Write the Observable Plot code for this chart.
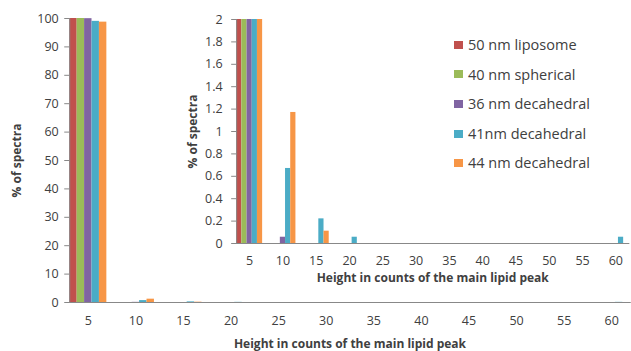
<!DOCTYPE html>
<html>
<head>
<meta charset="utf-8">
<script src="https://cdn.jsdelivr.net/npm/d3@7"></script>
<script src="https://cdn.jsdelivr.net/npm/@observablehq/plot@0.6"></script>
<style>
  html, body { margin: 0; padding: 0; background: white; }
  #wrap { position: relative; width: 631px; height: 351px; overflow: hidden; font-family: "Open Sans", sans-serif; color: #404040; }
  #inset { position: absolute; left: 180px; top: 0px; }
  #legend { position: absolute; left: 454px; top: 30px; font-size: 14.5px; }
  #legend .row { height: 29.6px; line-height: 29.6px; white-space: nowrap; display: flex; align-items: center; }
  #legend .sw { display: inline-block; width: 9px; height: 8px; margin-right: 5px; }
</style>
</head>
<body>
<div id="wrap">
  <div id="main"></div>
  <div id="inset"></div>
  <div id="legend"></div>
</div>
<script>
// ---- data ----
const categories = [5, 10, 15, 20, 25, 30, 35, 40, 45, 50, 55, 60];
const series = ["50 nm liposome", "40 nm spherical", "36 nm decahedral", "41nm decahedral", "44 nm decahedral"];
const colors = ["#C0504D", "#9BBB59", "#8064A2", "#4BACC6", "#F79646"];
const liposome50 = [100, 0, 0, 0, 0, 0, 0, 0, 0, 0, 0, 0];
const spherical40 = [100, 0, 0, 0, 0, 0, 0, 0, 0, 0, 0, 0];
const decahedral36 = [99.94, 0.056, 0, 0, 0, 0, 0, 0, 0, 0, 0, 0];
const decahedral41 = [99.0, 0.67, 0.22, 0.056, 0, 0, 0, 0, 0, 0, 0, 0.056];
const decahedral44 = [98.72, 1.17, 0.11, 0, 0, 0, 0, 0, 0, 0, 0, 0];
const mainYTicks = [0, 10, 20, 30, 40, 50, 60, 70, 80, 90, 100];
const insetYTicks = [0, 0.2, 0.4, 0.6, 0.8, 1, 1.2, 1.4, 1.6, 1.8, 2];
const xTitle = "Height in counts of the main lipid peak";
const yTitle = "% of spectra";

const seriesValues = [liposome50, spherical40, decahedral36, decahedral41, decahedral44];
const data = series.flatMap((s, i) => categories.map((c, j) => ({cat: c, series: s, value: seriesValues[i][j]})));

const axisColor = "#888";
const textColor = "#404040";

// ---- main chart ----
const main = Plot.plot({
  width: 631, height: 351,
  marginLeft: 64, marginRight: 0, marginTop: 18, marginBottom: 49,
  style: {fontFamily: "Open Sans", fontSize: "12.5px", color: textColor, background: "transparent"},
  fx: {domain: categories, range: [64, 635], paddingInner: 0.22, paddingOuter: 0.11, round: false},
  x: {domain: series, padding: 0, round: false, axis: null},
  y: {domain: [0, 100]},
  color: {domain: series, range: colors},
  marks: [
    Plot.barY(data, {fx: "cat", x: "series", y: "value", fill: "series"}),
    Plot.axisY({ticks: mainYTicks, tickSize: 5, tickPadding: 6, stroke: axisColor, label: null, tickFormat: d => String(d)}),
    Plot.axisFx({anchor: "bottom", tickSize: 0, tickPadding: 14, label: null}),
    Plot.frame({anchor: "bottom", stroke: axisColor, facet: "super"}),
    Plot.frame({anchor: "left", stroke: axisColor, facet: "super"}),
    Plot.text([yTitle], {text: d => d, frameAnchor: "left", dx: -53, rotate: -90, textAnchor: "middle", lineAnchor: "middle", fontWeight: "bold", fontSize: 12, fill: textColor, facet: "super"}),
    Plot.text([xTitle], {text: d => d, frameAnchor: "bottom", dy: 41.5, textAnchor: "middle", lineAnchor: "middle", fontWeight: "bold", fontSize: 12, fill: textColor, facet: "super"})
  ]
});
document.getElementById("main").appendChild(main);

// ---- inset chart ----
const inset = Plot.plot({
  width: 451, height: 290,
  marginLeft: 53, marginRight: 0, marginTop: 19, marginBottom: 47,
  style: {fontFamily: "Open Sans", fontSize: "12.5px", color: textColor, background: "transparent"},
  fx: {domain: categories, range: [52.5, 452], paddingInner: 0.22, paddingOuter: 0.11, round: false},
  x: {domain: series, padding: 0, round: false, axis: null},
  y: {domain: [0, 2], clamp: true},
  color: {domain: series, range: colors},
  marks: [
    Plot.barY(data, {fx: "cat", x: "series", y: "value", fill: "series"}),
    Plot.axisY({ticks: insetYTicks, tickSize: 5, tickPadding: 9, stroke: axisColor, label: null, tickFormat: d => String(d)}),
    Plot.axisFx({anchor: "bottom", tickSize: 0, tickPadding: 12.5, label: null}),
    Plot.frame({anchor: "bottom", stroke: axisColor, facet: "super"}),
    Plot.frame({anchor: "left", stroke: axisColor, facet: "super"}),
    Plot.text([yTitle], {text: d => d, frameAnchor: "left", dx: -44, rotate: -90, textAnchor: "middle", lineAnchor: "middle", fontWeight: "bold", fontSize: 12, fill: textColor, facet: "super"}),
    Plot.text([xTitle], {text: d => d, frameAnchor: "bottom", dy: 35, textAnchor: "middle", lineAnchor: "middle", fontWeight: "bold", fontSize: 12, fill: textColor, facet: "super"})
  ]
});
document.getElementById("inset").appendChild(inset);

// ---- legend ----
const legend = document.getElementById("legend");
series.forEach((s, i) => {
  const row = document.createElement("div");
  row.className = "row";
  const sw = document.createElement("span");
  sw.className = "sw";
  sw.style.background = colors[i];
  const t = document.createElement("span");
  t.textContent = s;
  row.appendChild(sw);
  row.appendChild(t);
  legend.appendChild(row);
});
</script>
</body>
</html>
